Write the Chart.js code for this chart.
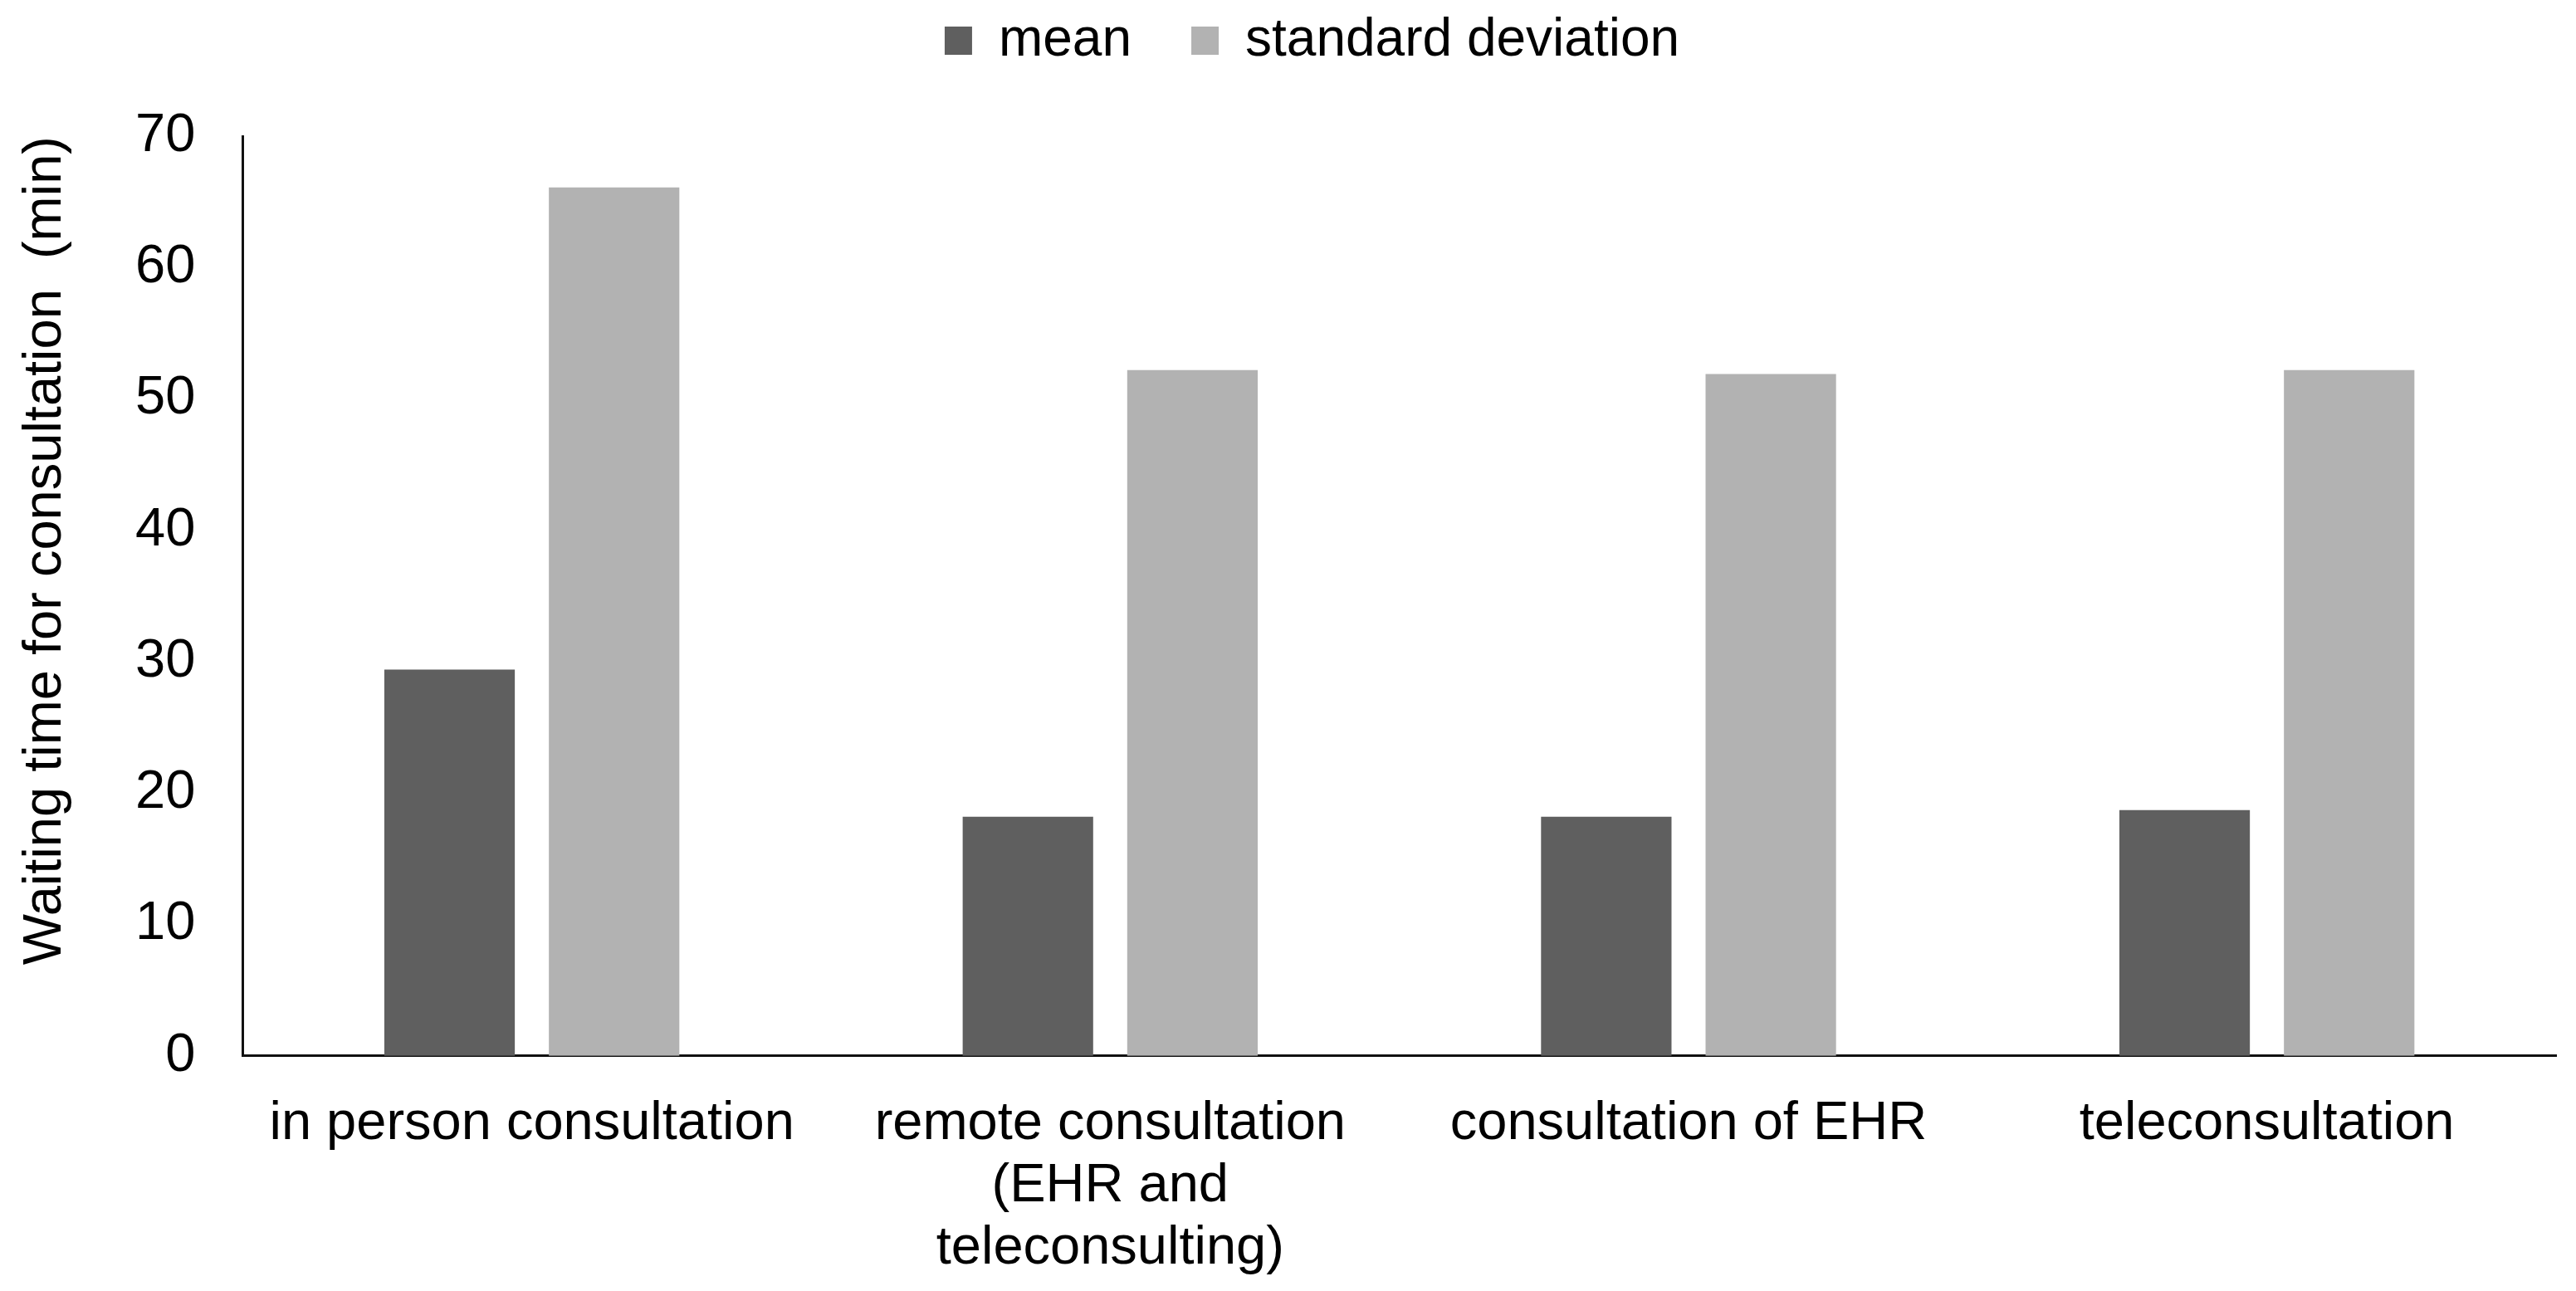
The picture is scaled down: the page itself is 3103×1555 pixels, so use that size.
<!DOCTYPE html>
<html>
<head>
<meta charset="utf-8">
<script src="https://cdn.jsdelivr.net/npm/chart.js@4.4.1/dist/chart.umd.min.js"></script>
<style>
  html, body { margin: 0; padding: 0; background: #fff; }
  #wrap { width: 3103px; height: 1555px; }
</style>
</head>
<body>
<div id="wrap"><canvas id="waitChart" width="3103" height="1555"></canvas></div>
<script>
const categories = [
    "in person consultation",
    ["remote consultation", "(EHR and", "teleconsulting)"],
    "consultation of EHR",
    "teleconsultation"
];
const meanValues = [29.4, 18.2, 18.2, 18.7];
const sdValues = [66.1, 52.2, 51.9, 52.2];
const yTicks = [0, 10, 20, 30, 40, 50, 60, 70];

// more room under the legend, and nudge the legend a little to the right
const legendTweak = {
    id: "legendTweak",
    beforeInit(chart) {
        const fit = chart.legend.fit;
        chart.legend.fit = function() {
            fit.bind(chart.legend)();
            this.height += 73;
        };
    },
    afterLayout(chart) {
        chart.legend.left += 33;
        chart.legend.right += 33;
    }
};

Chart.defaults.font.family = "'Liberation Sans', Arial, sans-serif";
Chart.defaults.color = "#000";

const ctx = document.getElementById("waitChart").getContext("2d");

new Chart(ctx, {
    type: "bar",
    data: {
        labels: categories,
        datasets: [
            {
                label: "mean",
                data: meanValues,
                backgroundColor: "#5f5f5f",
                categoryPercentage: 0.569,
                barPercentage: 0.793
            },
            {
                label: "standard deviation",
                data: sdValues,
                backgroundColor: "#b2b2b2",
                categoryPercentage: 0.569,
                barPercentage: 0.793
            }
        ]
    },
    options: {
        responsive: false,
        animation: false,
        layout: {
            padding: { left: 16, right: 24, top: -55, bottom: -31 }
        },
        plugins: {
            tooltip: { enabled: false },
            legend: {
                position: "top",
                labels: {
                    font: { size: 64 },
                    boxWidth: 33,
                    boxHeight: 34,
                    padding: 72
                }
            }
        },
        scales: {
            x: {
                grid: { display: false, drawTicks: false },
                border: { display: true, color: "#111", width: 3 },
                ticks: {
                    font: { size: 65, lineHeight: 1.15 },
                    padding: 45,
                    maxRotation: 0,
                    autoSkip: false
                }
            },
            y: {
                min: 0,
                max: 70,
                afterBuildTicks(scale) {
                    scale.ticks = yTicks.map(v => ({ value: v }));
                },
                grid: { display: false, drawTicks: false },
                border: { display: true, color: "#111", width: 3 },
                ticks: {
                    font: { size: 65 },
                    padding: 57
                },
                title: {
                    display: true,
                    text: "Waiting time for consultation  (min)",
                    align: "end",
                    font: { size: 65 },
                    padding: { top: 0, bottom: 12 }
                }
            }
        }
    },
    plugins: [legendTweak]
});
</script>
</body>
</html>
